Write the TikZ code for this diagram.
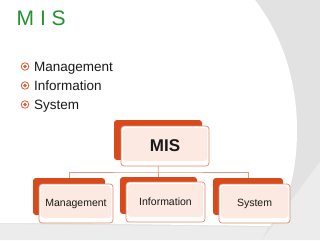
\documentclass[tikz,border=0pt]{standalone}
\usepackage{fontspec}
\setmainfont{Liberation Sans}
\definecolor{bgdark}{HTML}{E2E2E2}
\definecolor{bglight}{HTML}{ECECEC}
\definecolor{titlegreen}{HTML}{22922E}
\definecolor{bulletred}{HTML}{E0603A}
\definecolor{backorange}{HTML}{D84A1C}
\definecolor{frontline}{HTML}{E2896B}
\definecolor{peach}{HTML}{FBE9E2}
\definecolor{linkcol}{HTML}{E49A80}
\definecolor{txt}{HTML}{1A1A1A}
\tikzset{
  backbox/.style={rectangle, rounded corners=3pt, fill=backorange, inner sep=0pt},
  frontbox/.style={rectangle, rounded corners=3pt, draw=frontline, line width=0.7pt, fill=white, inner sep=0pt, text=txt, font=\fontsize{10.5}{12}\selectfont,
    path picture={\fill[peach] ([shift={(2pt,5pt)}]path picture bounding box.south west) rectangle ([shift={(-2pt,-2pt)}]path picture bounding box.north east);}},
  link/.style={draw=linkcol, line width=0.7pt},
  bulletmark/.style={circle, draw=bulletred, line width=0.8pt, minimum size=7.5pt, inner sep=0pt},
  bullettext/.style={anchor=base west, inner sep=0pt, text=txt, font=\fontsize{13.5}{16}\selectfont}
}
\begin{document}
\begin{tikzpicture}[x=1pt,y=-1pt]
\useasboundingbox (0,0) rectangle (320,240);
% background
\fill[bgdark] (0,0) rectangle (320,240);
\fill[bglight] (262,240) -- (320,162) -- (320,240) -- cycle;
\fill[bglight] (0,224) -- (268,227) -- (262,240) -- (0,240) -- cycle;
\fill[white] (0,0) -- (255,0) .. controls (282,35) and (297,80) .. (297,130)
  .. controls (297,172) and (288,205) .. (270,226)
  .. controls (180,225) and (60,223) .. (0,223) -- cycle;
% title
\node[anchor=base west, inner sep=0pt, text=titlegreen, font=\fontsize{21}{24}\selectfont] (title) at (16.5,26) {M I S};
% bullets
\node[bulletmark] (b1) at (25,66.5) {};
\node[bulletmark] (b2) at (25,85.5) {};
\node[bulletmark] (b3) at (25,104.5) {};
\fill[bulletred] (b1.center) circle (1.8pt) (b2.center) circle (1.8pt) (b3.center) circle (1.8pt);
\node[bullettext] (t1) at (34,71.5) {Management};
\node[bullettext] (t2) at (34,90.5) {Information};
\node[bullettext] (t3) at (34,109.5) {System};
% back boxes
\node[backbox, minimum width=88pt, minimum height=40pt] (misb) at (158,140) {};
\node[backbox, minimum width=72pt, minimum height=37pt] (mgb) at (69,196.5) {};
\node[backbox, minimum width=77pt, minimum height=37pt] (infb) at (158.5,195.5) {};
\node[backbox, minimum width=70pt, minimum height=37pt] (sysb) at (248,196.5) {};
% connectors
\coordinate (bus) at (158,172);
\draw[link] (misb.south) -- (infb.north);
\draw[link] (mgb.north) |- (bus) -| (sysb.north);
% front boxes
\node[frontbox, minimum width=88pt, minimum height=40pt, font=\fontsize{17}{20}\selectfont\bfseries] (misf) at (165,146) {MIS};
\node[frontbox, minimum width=74pt, minimum height=39pt] (mgf) at (76,203.5) {Management};
\node[frontbox, minimum width=79pt, minimum height=40pt] (inff) at (165.5,202) {Information};
\node[frontbox, minimum width=71pt, minimum height=39pt] (sysf) at (254.5,203.5) {System};
\end{tikzpicture}
\end{document}
